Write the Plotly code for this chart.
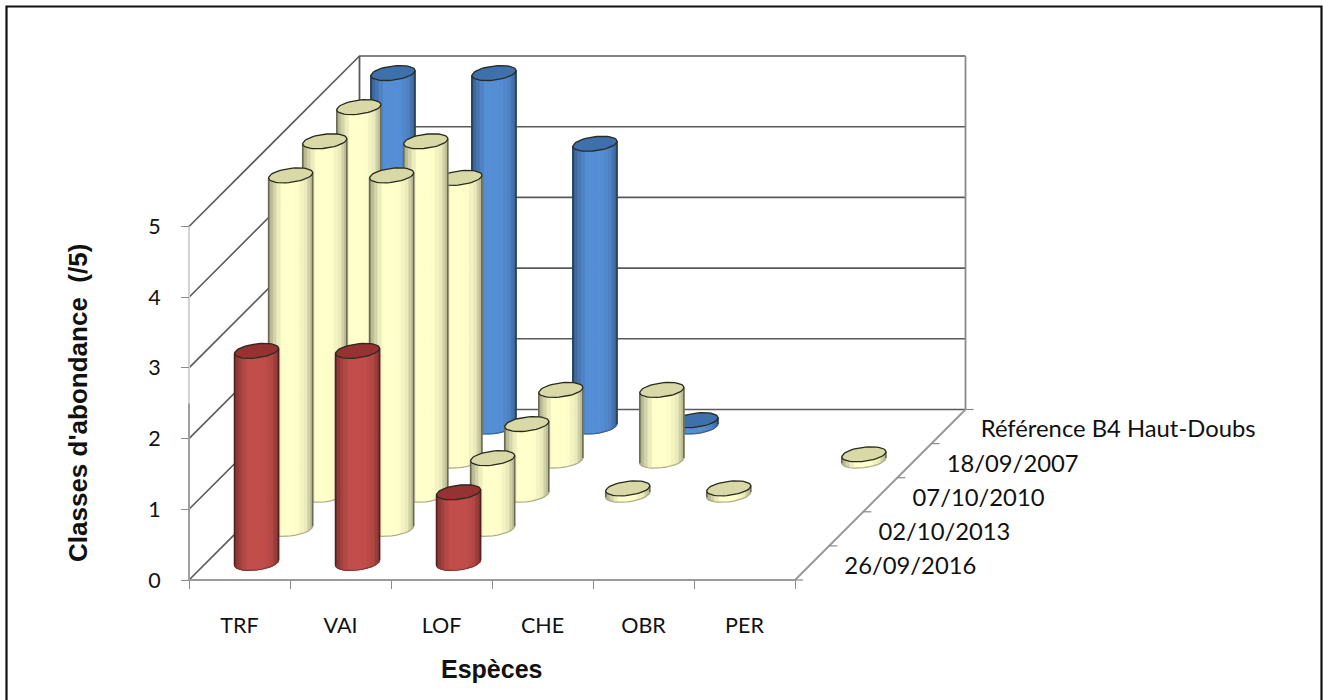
import numpy as np
import plotly.graph_objects as go

# ---------- data ----------
species = ["TRF", "VAI", "LOF", "CHE", "OBR", "PER"]
dates = ["26/09/2016", "02/10/2013", "07/10/2010", "18/09/2007", "Référence B4 Haut-Doubs"]
s_2016 = [3, 3, 1, 0, 0, 0]
s_2013 = [5, 5, 1, 0, 0, 0]
s_2010 = [5, 5, 1, 0.09, 0.09, 0]
s_2007 = [5, 4, 1, 1, 0, 0.09]
s_ref = [5, 5, 4, 0.09, 0, 0]
series = [s_2016, s_2013, s_2010, s_2007, s_ref]
y_ticks = [0, 1, 2, 3, 4, 5]

# ---------- styling ----------
W, H = 1323, 700
X0, Y0 = 189, 580      # pixel of the origin
PX_X, PX_Y = 101.0, 70.7
PX_D = 34.1            # oblique depth shift, px per series
DX, DY = PX_D / PX_X, PX_D / PX_Y
RX, RD = 20.7 / PX_X, 7.5 / PX_D
YELLOW = ((255, 255, 204), (217, 217, 168))
BLUE = ((85, 142, 213), (62, 112, 172))
RED = ((194, 78, 75), (150, 50, 50))
body = [RED, YELLOW, YELLOW, YELLOW, BLUE]
N = 14


def proj(x, y, d):
    """Oblique projection of (category, value, depth) onto the 2D axes."""
    return np.asarray(x) + np.asarray(d) * DX, np.asarray(y) + np.asarray(d) * DY


def rgb(c, f):
    return "rgb(%d,%d,%d)" % tuple(min(255, int(v * f)) for v in c)


def line(fig, xs, ys, ds, color, width):
    px, py = proj(xs, ys, ds)
    fig.add_trace(go.Scatter(x=px, y=py, mode="lines", hoverinfo="skip", showlegend=False,
                             line=dict(color=color, width=width)))


def cylinder(fig, cx, cd, v, col):
    side, top = col
    th0 = np.arctan2(RD * PX_D, RX * PX_X)
    ths = np.linspace(th0 - np.pi, th0, N + 1)
    ex, ed = cx + RX * np.cos(ths), cd + RD * np.sin(ths)
    px0, _ = proj(ex, 0 * ex, ed)
    xl, xr = px0[0], px0[-1]
    for i in range(N):
        t = ((px0[i] + px0[i + 1]) / 2 - xl) / (xr - xl)
        f = np.interp(t, [0, .1, .3, .65, .85, 1], [.6, .78, 1, 1, .92, .7])
        a, b = [ex[i], ex[i + 1]], [ed[i], ed[i + 1]]
        qx = [a[0], a[1], a[1], a[0], a[0]]
        qd = [b[0], b[1], b[1], b[0], b[0]]
        qy = [0, 0, v, v, 0]
        sx, sy = proj(qx, qy, qd)
        c = rgb(side, f)
        fig.add_trace(go.Scatter(x=sx, y=sy, mode="lines", fill="toself", fillcolor=c,
                                 line=dict(color=c, width=1), hoverinfo="skip", showlegend=False))
    line(fig, [ex[0], ex[0]], [0, v], [ed[0], ed[0]], rgb(side, .42), 1.6)
    line(fig, [ex[-1], ex[-1]], [0, v], [ed[-1], ed[-1]], rgb(side, .42), 1.6)
    line(fig, ex, np.zeros(N + 1), ed, rgb(side, .68), 1.2)
    th = np.linspace(0, 2 * np.pi, 49)
    tx, ty = proj(cx + RX * np.cos(th), v + 0 * th, cd + RD * np.sin(th))
    fig.add_trace(go.Scatter(x=tx, y=ty, mode="lines", fill="toself", fillcolor=rgb(top, 1),
                             line=dict(color="#2a2a20", width=1.3), hoverinfo="skip", showlegend=False))


fig = go.Figure()
nc, nd, top_v = len(species), len(dates), y_ticks[-1]

# walls and floor
GRID = "#5a5a5a"
for v in y_ticks:
    line(fig, [0, 0, nc], [v, v, v], [0, nd, nd], GRID, 1.6)
line(fig, [0, 0], [0, top_v], [nd, nd], GRID, 1.8)
line(fig, [nc, nc], [0, top_v], [nd, nd], "#8a8a8a", 1.8)
line(fig, [0, 0], [0, top_v / 2], [0, 0], "#9e9e9e", 2)
line(fig, [0, 0], [top_v / 2, top_v], [0, 0], "#d2d2d2", 2)
line(fig, [0, nc, nc], [0, 0, 0], [0, 0, nd], "#9a9a9a", 2)
for d in range(nd + 1):
    line(fig, [nc, nc + 0.08], [0, 0], [d, d], "#8a8a8a", 1.2)

# cylinders, from the back series to the front one
for d in range(nd - 1, -1, -1):
    for i in range(nc):
        if series[d][i] > 0:
            cylinder(fig, i + .5, d + .5, series[d][i], body[d])

# depth axis labels
lx, ly = proj([nc + .32] * nd, [0] * nd, np.arange(nd) + .5)
fig.add_trace(go.Scatter(x=lx, y=ly - 5 / PX_Y, mode="text", text=dates, textposition="middle right",
                         textfont=dict(family="Lato", size=23.8, color="#111"),
                         hoverinfo="skip", showlegend=False))

FONT = dict(family="Lato", size=21.5, color="#111")
TITLE = dict(family="Liberation Sans", size=25, color="#111", weight="bold")
TITLE_Y = dict(family="Liberation Sans", size=26, color="#111", weight="bold")
fig.update_layout(
    width=W, height=H, margin=dict(l=0, r=0, t=0, b=0), autosize=False,
    paper_bgcolor="white", plot_bgcolor="white", showlegend=False,
    xaxis=dict(range=[-X0 / PX_X, (W - X0) / PX_X], anchor="free", position=1 - Y0 / H,
               tickmode="array", tickvals=np.arange(nc) + .5, ticktext=species,
               ticks="outside", ticklen=26, tickcolor="rgba(0,0,0,0)", tickfont=FONT,
               minor=dict(tickmode="array", tickvals=list(range(nc + 1)), ticks="outside",
                          ticklen=8, tickcolor="#8a8a8a", tickwidth=1.4, showgrid=False),
               showgrid=False, zeroline=False, showline=False),
    yaxis=dict(range=[(Y0 - H) / PX_Y, Y0 / PX_Y], anchor="free", position=X0 / W,
               tickmode="array", tickvals=y_ticks, ticks="outside", ticklen=8,
               tickcolor="#8a8a8a", tickwidth=1.4, ticklabelstandoff=16, tickfont=FONT,
               showgrid=False, zeroline=False, showline=False),
    annotations=[
        dict(text="Espèces", xref="paper", yref="paper", x=491.5 / W, y=1 - 669 / H, showarrow=False,
             font=TITLE, xanchor="center", yanchor="middle"),
        dict(text="Classes d'abondance\u00a0\u00a0(/5)", xref="paper", yref="paper", x=78 / W, y=1 - 403 / H,
             showarrow=False, font=TITLE_Y, textangle=-90, xanchor="center", yanchor="middle"),
    ],
    shapes=[dict(type="path", xref="paper", yref="paper", layer="above",
                 path="M %f -0.02 L %f %f L %f %f L %f -0.02" % (6.5 / W, 6.5 / W, 1 - 6.5 / H, 1321.5 / W, 1 - 6.5 / H, 1321.5 / W),
                 line=dict(color="#111", width=2.2))],
)
fig.write_html("out.html", config=dict(displayModeBar=False), post_script="document.body.style.margin='0';")
